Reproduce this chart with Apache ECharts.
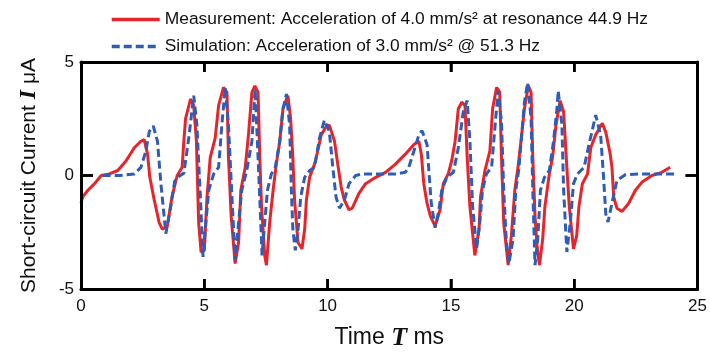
<!DOCTYPE html>
<html>
<head>
<meta charset="utf-8">
<script src="https://cdn.jsdelivr.net/npm/echarts@6/dist/echarts.min.js"></script>
<style>html,body{margin:0;padding:0;background:#fff}#c{width:710px;height:356px}</style>
</head>
<body>
<div id="c"></div>
<script>
const xTicks = [0, 5, 10, 15, 20, 25];
const yTicks = [-5, 0, 5];
const measName = 'Measurement: Acceleration of 4.0 mm/s\u00B2 at resonance 44.9 Hz';
const simName = 'Simulation: Acceleration of 3.0 mm/s\u00B2 @ 51.3 Hz';

const measX = [0.0,0.07,0.28,0.55,0.82,1.15,1.49,1.83,2.16,2.43,2.56,2.7,2.79,2.97,3.17,3.3,3.5,3.69,3.9,4.1,4.17,4.24,4.44,4.57,4.68,4.77,4.87,5.0,5.11,5.24,5.44,5.58,5.78,5.92,5.98,6.09,6.25,6.39,6.48,6.66,6.79,6.93,7.05,7.18,7.25,7.32,7.45,7.52,7.65,7.79,7.92,8.06,8.19,8.39,8.5,8.59,8.66,8.8,8.96,9.07,9.14,9.27,9.47,9.6,9.74,9.94,10.07,10.28,10.41,10.55,10.68,10.87,11.0,11.27,11.54,11.95,12.35,12.75,13.15,13.5,13.7,13.8,13.9,14.03,14.17,14.36,14.56,14.69,14.89,15.03,15.17,15.3,15.44,15.57,15.66,15.77,15.97,16.14,16.2,16.38,16.58,16.69,16.85,16.98,17.05,17.14,17.32,17.45,17.59,17.72,17.84,17.98,18.14,18.25,18.32,18.41,18.5,18.59,18.72,18.81,18.99,19.12,19.26,19.43,19.57,19.7,19.8,19.97,20.1,20.19,20.33,20.54,20.67,20.87,21.14,21.28,21.45,21.53,21.6,21.73,21.94,22.21,22.48,22.75,23.15,23.55,23.89];
const measY = [-1.22,-0.94,-0.65,-0.36,0.0,0.07,0.22,0.65,1.22,1.51,1.58,0.94,-0.08,-1.08,-2.08,-2.37,-2.23,-0.94,0.0,0.36,1.51,2.51,3.37,3.09,1.51,-2.08,-3.38,-3.3,-0.94,0.79,1.65,3.09,3.88,3.66,0.79,-1.8,-3.88,-2.95,-0.65,0.36,1.79,3.66,3.95,3.66,0.79,-1.37,-3.52,-3.95,-2.08,-0.65,0.5,1.51,2.94,3.52,2.51,0.79,-1.08,-2.95,-3.23,-2.37,-1.08,-0.08,0.5,1.08,1.79,2.15,2.22,1.51,0.5,-0.51,-1.08,-1.51,-1.44,-0.79,-0.36,-0.08,0.14,0.5,0.94,1.37,1.51,0.94,-0.36,-1.22,-1.8,-2.23,-1.51,-0.36,0.07,0.65,1.51,2.94,3.23,3.09,0.79,-1.37,-3.52,-2.37,-0.94,0.22,1.08,2.94,3.88,3.66,0.79,-2.08,-3.95,-2.66,-0.65,0.36,1.51,2.94,3.95,3.66,0.79,-1.8,-3.23,-3.95,-2.8,-1.37,0.07,0.79,2.22,3.3,2.8,0.36,-1.37,-3.23,-2.66,-1.37,-0.36,0.07,1.22,1.79,2.3,1.9,1.0,0.36,-0.94,-1.44,-1.58,-1.22,-0.65,-0.29,0.0,0.14,0.36];

const simX = [0.88,1.55,2.16,2.43,2.63,2.77,2.93,3.1,3.24,3.37,3.44,3.65,3.8,3.95,4.17,4.37,4.57,4.7,4.84,4.95,5.04,5.18,5.38,5.58,5.71,5.85,5.98,6.12,6.25,6.39,6.52,6.72,6.93,7.06,7.18,7.29,7.34,7.45,7.56,7.72,7.88,8.06,8.19,8.33,8.46,8.53,8.59,8.69,8.8,8.91,9.07,9.27,9.47,9.67,9.87,10.07,10.21,10.34,10.48,10.68,10.87,11.14,11.4,12.75,13.15,13.29,13.5,13.7,13.83,14.03,14.1,14.2,14.36,14.49,14.63,14.83,15.1,15.3,15.5,15.66,15.77,15.88,16.04,16.17,16.28,16.44,16.65,16.78,16.91,17.05,17.14,17.25,17.35,17.52,17.63,17.75,17.86,17.98,18.11,18.25,18.32,18.41,18.52,18.63,18.79,18.99,19.16,19.3,19.35,19.5,19.57,19.7,19.84,19.97,20.13,20.4,20.6,20.87,21.07,21.18,21.28,21.37,21.53,21.73,22.07,22.61,24.16];
const simY = [0.0,0.0,0.07,0.36,1.08,1.94,2.18,1.51,-0.36,-1.8,-2.56,-1.3,-0.25,-0.05,0.1,1.65,3.52,2.22,-0.94,-3.59,-2.37,-0.65,0.07,0.36,2.22,3.88,2.22,-0.94,-3.74,-2.08,-0.65,0.22,1.51,3.8,0.79,-2.08,-3.52,-2.08,-0.65,0.07,0.36,1.51,2.94,3.59,2.22,-0.65,-2.37,-3.3,-2.37,-0.94,-0.08,0.22,0.36,1.65,2.44,1.94,0.36,-0.94,-1.44,-1.08,-0.36,0.0,0.07,0.07,0.14,0.36,1.08,1.79,1.97,1.37,0.3,-1.2,-2.3,-1.66,-0.65,-0.08,0.14,1.22,2.8,3.3,1.51,-1.37,-3.23,-2.08,-0.65,0.07,0.36,2.08,3.73,2.37,-0.65,-2.95,-3.88,-2.8,-0.65,0.25,1.65,3.23,4.09,2.51,-0.65,-3.95,-2.8,-0.65,-0.08,0.22,1.51,2.94,3.73,2.22,-0.65,-3.37,-2.08,-0.36,0.07,0.36,1.37,2.66,1.79,0.07,-1.7,-2.05,-1.22,-0.22,0.03,0.07,0.07];

const zip = (xs, ys) => xs.map((x, i) => [x, ys[i]]);
const RED = '#e8242b', BLUE = '#2f5db5';
const FONT = 'Liberation Sans';

const xMin = xTicks[0], xMax = xTicks[xTicks.length - 1];
const yMin = yTicks[0], yMax = yTicks[yTicks.length - 1];
const innerX = xTicks.slice(1, -1);
const innerY = yTicks.slice(1, -1);

const chart = echarts.init(document.getElementById('c'), null, {renderer: 'canvas'});
const lineStyle = {show: true, onZero: false, lineStyle: {color: '#000', width: 3}};
const xTick = {show: true, inside: true, length: 10, lineStyle: {color: '#000', width: 2.5}};
const yTick = {show: true, inside: true, length: 12, lineStyle: {color: '#000', width: 2.5}};
chart.setOption({
  animation: false,
  backgroundColor: '#fff',
  grid: {left: 81, right: 9, top: 62, bottom: 62},
  legend: {
    orient: 'vertical', left: 105, top: 6, itemWidth: 48, itemHeight: 14, itemGap: 10,
    itemStyle: {opacity: 0},
    lineStyle: {width: 3.5},
    textStyle: {fontFamily: FONT, fontSize: 17.4, color: '#111'},
    data: [measName, simName]
  },
  xAxis: [{
    type: 'value', min: xMin, max: xMax, interval: 5, position: 'bottom', z: 10,
    axisLine: lineStyle, axisTick: xTick, splitLine: {show: false},
    axisLabel: {fontFamily: FONT, fontSize: 17, color: '#111', margin: 9},
    name: '{a|Time }{b|T}{a| ms}', nameLocation: 'middle', nameGap: 36,
    nameTextStyle: {rich: {
      a: {fontFamily: FONT, fontSize: 23, color: '#111'},
      b: {fontFamily: 'Liberation Serif', fontSize: 26, fontWeight: 'bold', fontStyle: 'italic', color: '#111'}
    }}
  }, {
    type: 'value', min: xMin, max: xMax, interval: 5, position: 'top', z: 10,
    axisLine: lineStyle, axisTick: xTick, axisLabel: {show: false}, splitLine: {show: false}
  }],
  yAxis: [{
    type: 'value', min: yMin, max: yMax, interval: 5, position: 'left', z: 10,
    axisLine: lineStyle, axisTick: yTick,
    splitLine: {show: false},
    axisLabel: {fontFamily: FONT, fontSize: 17, color: '#111', margin: 7},
    name: '{a|Short-circuit Current }{b|I}{a| \u03BCA}', nameLocation: 'middle', nameGap: 40,
    nameTextStyle: {rich: {
      a: {fontFamily: FONT, fontSize: 21, color: '#111'},
      b: {fontFamily: 'Liberation Serif', fontSize: 24, fontWeight: 'bold', fontStyle: 'italic', color: '#111'}
    }}
  }, {
    type: 'value', min: yMin, max: yMax, interval: 5, position: 'right', z: 10,
    axisLine: lineStyle, axisTick: yTick,
    axisLabel: {show: false}, splitLine: {show: false}
  }],
  series: [{
    name: measName, type: 'line', data: zip(measX, measY), showSymbol: false, symbol: 'none',
    lineStyle: {color: RED, width: 3}, itemStyle: {color: RED}, z: 2
  }, {
    name: simName, type: 'line', data: zip(simX, simY), showSymbol: false, symbol: 'none',
    lineStyle: {color: BLUE, width: 3, type: [8, 4]}, itemStyle: {color: BLUE}, z: 3
  }]
});

// inward tick marks placed through the axes' own scales
const px = (x, y) => chart.convertToPixel({xAxisIndex: 0, yAxisIndex: 0}, [x, y]);
const tickEls = [];
const tk = (x1, y1, x2, y2) => tickEls.push({
  type: 'line', silent: true, z: 100,
  shape: {x1, y1, x2, y2}, style: {stroke: '#000', lineWidth: 2.5}
});
innerX.forEach(v => {
  const b = px(v, yMin), t = px(v, yMax);
  tk(b[0], b[1], b[0], b[1] - 10);
  tk(t[0], t[1], t[0], t[1] + 10);
});
innerY.forEach(v => {
  const l = px(xMin, v), r = px(xMax, v);
  tk(l[0], l[1], l[0] + 12, l[1]);
  tk(r[0], r[1], r[0] - 12, r[1]);
});
chart.setOption({graphic: {elements: tickEls}});
</script>
</body>
</html>
